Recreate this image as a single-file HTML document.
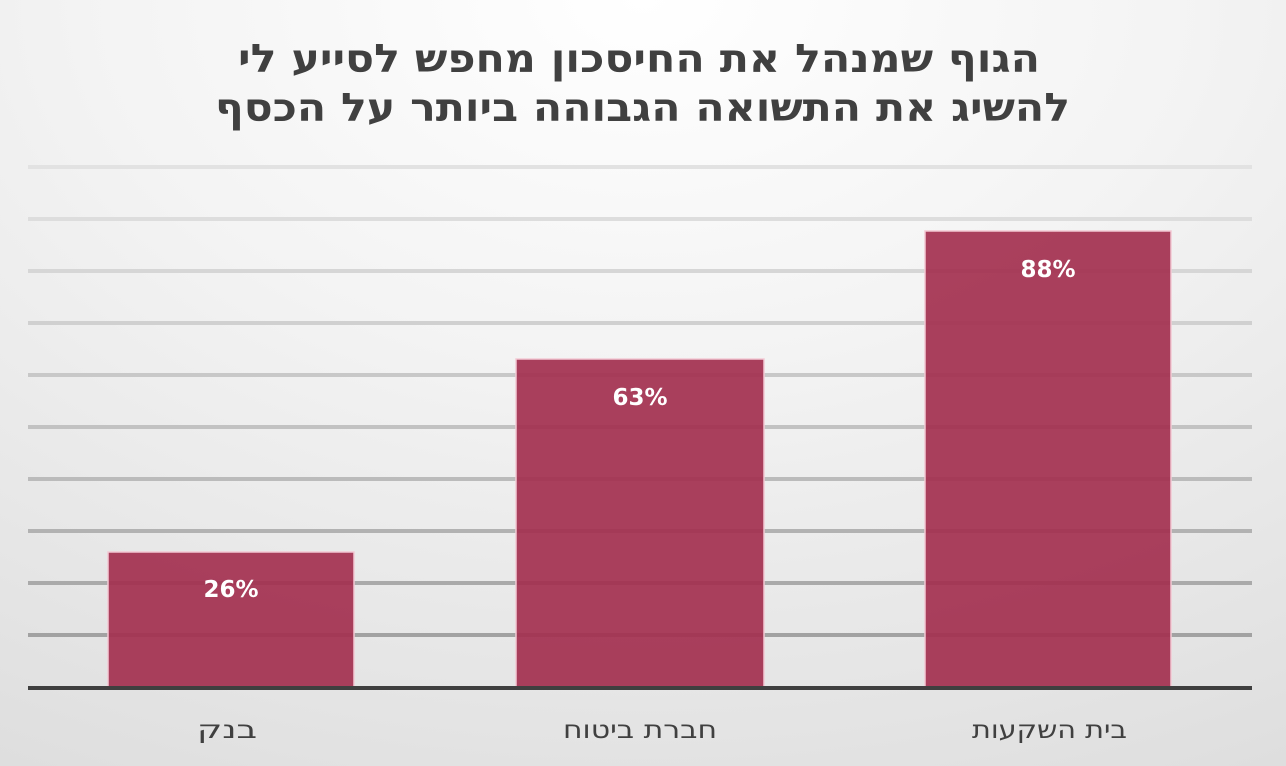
<!DOCTYPE html>
<html><head><meta charset="utf-8"><style>
html,body{margin:0;padding:0;}
body{width:1286px;height:766px;overflow:hidden;background:radial-gradient(ellipse 110% 120% at 50% 0%,#ffffff 0%,#f3f3f3 40%,#dcdcdc 100%);}
svg{position:absolute;left:0;top:0;}
</style></head><body>
<svg width="1286" height="766" xmlns="http://www.w3.org/2000/svg">
<g stroke-width="4">
<line x1="28" x2="1252" y1="167" y2="167" stroke="#e2e2e2"/>
<line x1="28" x2="1252" y1="219" y2="219" stroke="#dddddd"/>
<line x1="28" x2="1252" y1="271" y2="271" stroke="#d6d6d6"/>
<line x1="28" x2="1252" y1="323" y2="323" stroke="#d0d0d0"/>
<line x1="28" x2="1252" y1="375" y2="375" stroke="#c8c8c8"/>
<line x1="28" x2="1252" y1="427" y2="427" stroke="#c2c2c2"/>
<line x1="28" x2="1252" y1="479" y2="479" stroke="#bbbbbb"/>
<line x1="28" x2="1252" y1="531" y2="531" stroke="#b2b2b2"/>
<line x1="28" x2="1252" y1="583" y2="583" stroke="#aaaaaa"/>
<line x1="28" x2="1252" y1="635" y2="635" stroke="#a2a2a2"/>
</g>
<g fill="#a3304f" fill-opacity="0.92" stroke="#f3c9d4" stroke-width="1.5">
<rect x="108" y="552" width="246" height="136"/>
<rect x="516" y="359" width="248" height="329"/>
<rect x="925" y="231" width="246" height="457"/>
</g>
<line x1="28" x2="1252" y1="688" y2="688" stroke="#3f3f3f" stroke-width="4"/>
<g font-family="'DejaVu Sans','Liberation Sans',sans-serif" font-weight="bold" font-size="23" fill="#fff" text-anchor="middle">
<text x="231" y="597">26%</text>
<text x="640" y="405">63%</text>
<text x="1048" y="277">88%</text>
</g>
<g font-family="'DejaVu Sans','Liberation Sans',sans-serif" font-size="25" fill="#404040">
<text x="197" y="738" textLength="60" lengthAdjust="spacingAndGlyphs" direction="rtl" text-anchor="end">בנק</text>
<text x="563" y="738" textLength="154" lengthAdjust="spacingAndGlyphs" direction="rtl" text-anchor="end">חברת ביטוח</text>
<text x="972" y="738" textLength="155" lengthAdjust="spacingAndGlyphs" direction="rtl" text-anchor="end">בית השקעות</text>
</g>
<g font-family="'DejaVu Sans','Liberation Sans',sans-serif" font-weight="bold" font-size="39" fill="#404040">
<text x="238" y="72" textLength="802" lengthAdjust="spacingAndGlyphs" direction="rtl" text-anchor="end">הגוף שמנהל את החיסכון מחפש לסייע לי</text>
<text x="215" y="121" textLength="855" lengthAdjust="spacingAndGlyphs" direction="rtl" text-anchor="end">להשיג את התשואה הגבוהה ביותר על הכסף</text>
</g>
</svg>
</body></html>
